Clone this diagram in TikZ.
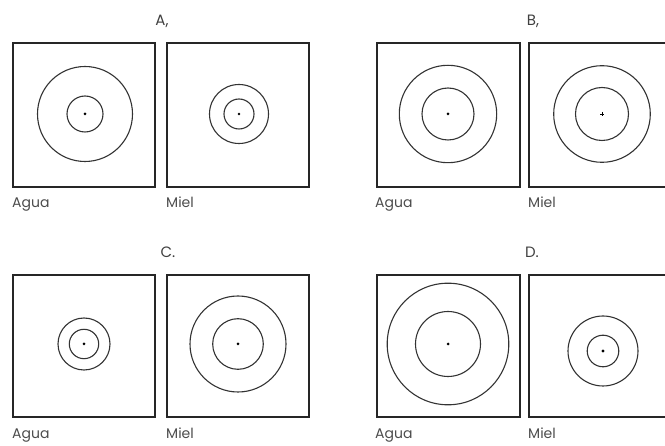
\documentclass[tikz,border=0pt]{standalone}
\usepackage{fontspec}
\setmainfont{Poppins}
\begin{document}
\begin{tikzpicture}[x=1pt,y=-1pt,
  frame/.style={draw=black!85, line width=1.3pt},
  ring/.style={draw=black!80, line width=1.1pt},
  lbl/.style={anchor=base west, inner sep=0pt, font=\fontsize{14}{16}\selectfont, text=black!70},
  ttl/.style={inner sep=0pt, font=\fontsize{15}{17}\selectfont, text=black!75}]
\useasboundingbox (0,0) rectangle (665,446);
\clip (0,0) rectangle (665,446);
% Panel A
\node[ttl] (tA) at (162,21) {A,};
\draw[frame] (13,43) rectangle (155,187);
\draw[frame] (167,43) rectangle (309,187);
\draw[ring] (85,114) circle (47.5);
\draw[ring] (85,114) circle (18);
\fill (85,114) circle (1.5);
\draw[ring] (239,114) circle (29.5);
\draw[ring] (239,114) circle (15);
\fill (239,114) circle (1.3);
\node[lbl] (aA) at (12,208) {Agua};
\node[lbl] (mA) at (166,208) {Miel};
% Panel B
\node[ttl] (tB) at (533,21) {B,};
\draw[frame] (377,43) rectangle (520,187);
\draw[frame] (529,43) rectangle (672,187);
\draw[ring] (448,114) circle (48.7);
\draw[ring] (448,114) circle (26);
\fill (448,114) circle (1.5);
\draw[ring] (602,114) circle (48.3);
\draw[ring] (602,114) circle (26.5);
\draw[line width=0.9pt] (600,114) -- (604,114) (602,112) -- (602,116);
\node[lbl] (aB) at (375,208) {Agua};
\node[lbl] (mB) at (528,208) {Miel};
% Panel C
\node[ttl] (tC) at (168,252) {C.};
\draw[frame] (13,275) rectangle (155,417);
\draw[frame] (167,275) rectangle (309,417);
\draw[ring] (84,344) circle (26);
\draw[ring] (84,344) circle (14.7);
\fill (84,344) circle (1.5);
\draw[ring] (238,344) circle (48);
\draw[ring] (238,344) circle (25.3);
\fill (238,344) circle (1.5);
\node[lbl] (aC) at (12,439) {Agua};
\node[lbl] (mC) at (166,439) {Miel};
% Panel D
\node[ttl] (tD) at (532,252) {D.};
\draw[frame] (377,275) rectangle (520,417);
\draw[frame] (529,275) rectangle (672,417);
\draw[ring] (448,344) circle (60.8);
\draw[ring] (448,344) circle (32.5);
\fill (448,344) circle (1.5);
\draw[ring] (603,351) circle (35);
\draw[ring] (603,351) circle (15.8);
\fill (603,351) circle (1.7);
\node[lbl] (aD) at (375,439) {Agua};
\node[lbl] (mD) at (528,439) {Miel};
\end{tikzpicture}
\end{document}
